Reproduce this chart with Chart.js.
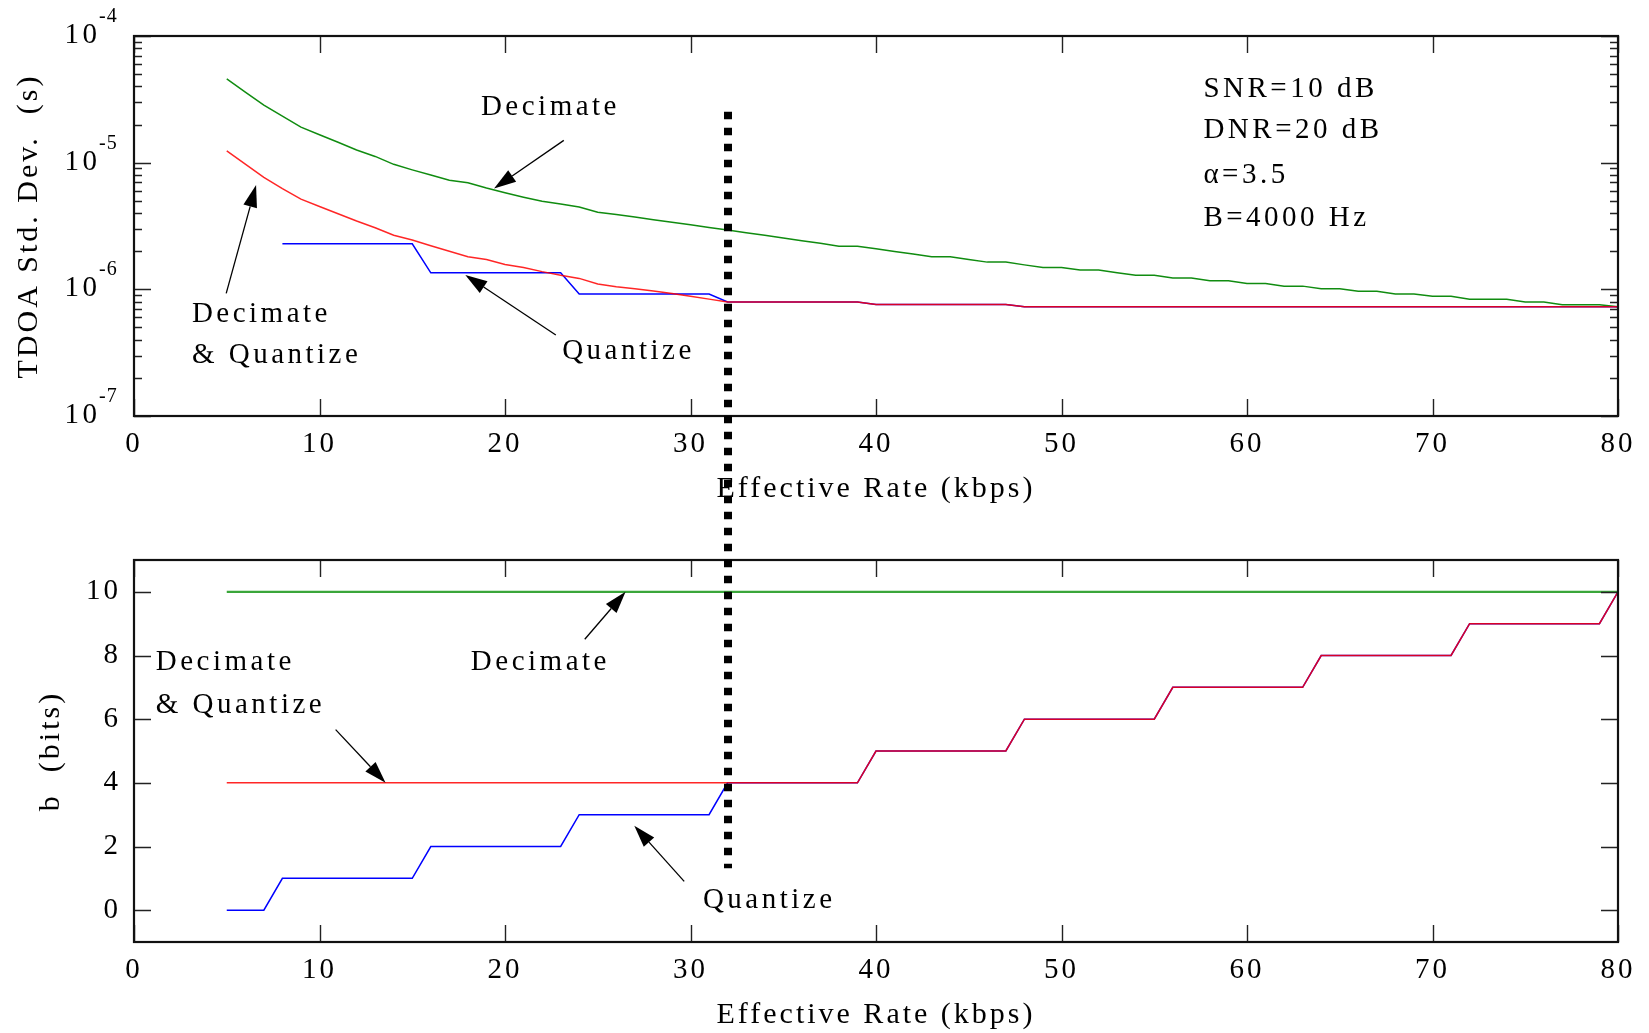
<!DOCTYPE html>
<html>
<head>
<meta charset="utf-8">
<title>TDOA accuracy vs effective rate</title>
<script src="https://cdn.jsdelivr.net/npm/chart.js@4.4.1/dist/chart.umd.min.js"></script>
<style>
  html, body { margin: 0; padding: 0; background: #fff; overflow: hidden; }
  #wrap { position: relative; width: 1649px; height: 1033px; }
  canvas { position: absolute; left: 0; }
  #tdoa { top: 0; }
  #bits { top: 507px; }
  #marker { top: 0; pointer-events: none; }
</style>
</head>
<body>
<div id="wrap">
  <canvas id="tdoa" width="1649" height="507"></canvas>
  <canvas id="bits" width="1649" height="526"></canvas>
  <canvas id="marker" width="1649" height="1033"></canvas>
</div>
<script>
// effective rate in kbps, one sample per integer rate
const rateKbps = [
  5, 6, 7, 8, 9, 10, 11, 12, 13, 14, 15, 16, 17, 18, 19, 20,
  21, 22, 23, 24, 25, 26, 27, 28, 29, 30, 31, 32, 33, 34, 35, 36,
  37, 38, 39, 40, 41, 42, 43, 44, 45, 46, 47, 48, 49, 50, 51, 52,
  53, 54, 55, 56, 57, 58, 59, 60, 61, 62, 63, 64, 65, 66, 67, 68,
  69, 70, 71, 72, 73, 74, 75, 76, 77, 78, 79, 80
];

// TDOA standard deviation (s)
const decimateStd = [
  4.58e-5, 3.61e-5, 2.85e-5, 2.33e-5, 1.91e-5, 1.66e-5, 1.45e-5, 1.26e-5,
  1.12e-5, 9.70e-6, 8.77e-6, 7.98e-6, 7.27e-6, 6.93e-6, 6.30e-6, 5.78e-6,
  5.33e-6, 4.95e-6, 4.72e-6, 4.46e-6, 4.06e-6, 3.89e-6, 3.72e-6, 3.55e-6,
  3.39e-6, 3.24e-6, 3.08e-6, 2.94e-6, 2.80e-6, 2.67e-6, 2.54e-6, 2.42e-6,
  2.31e-6, 2.19e-6, 2.19e-6, 2.09e-6, 1.99e-6, 1.90e-6, 1.81e-6, 1.81e-6,
  1.72e-6, 1.64e-6, 1.64e-6, 1.56e-6, 1.49e-6, 1.49e-6, 1.42e-6, 1.42e-6,
  1.35e-6, 1.29e-6, 1.29e-6, 1.23e-6, 1.23e-6, 1.17e-6, 1.17e-6, 1.11e-6,
  1.11e-6, 1.06e-6, 1.06e-6, 1.01e-6, 1.01e-6, 9.64e-7, 9.64e-7, 9.18e-7,
  9.18e-7, 8.81e-7, 8.81e-7, 8.34e-7, 8.34e-7, 8.34e-7, 7.94e-7, 7.94e-7,
  7.57e-7, 7.57e-7, 7.57e-7, 7.30e-7
];
const bothStd = [
  1.24e-5, 9.73e-6, 7.64e-6, 6.23e-6, 5.15e-6, 4.51e-6, 3.95e-6, 3.46e-6,
  3.06e-6, 2.67e-6, 2.45e-6, 2.21e-6, 2.00e-6, 1.81e-6, 1.72e-6, 1.57e-6,
  1.49e-6, 1.38e-6, 1.29e-6, 1.22e-6, 1.10e-6, 1.05e-6, 1.01e-6, 9.69e-7,
  9.29e-7, 8.81e-7, 8.37e-7, 7.94e-7, 7.94e-7, 7.94e-7, 7.94e-7, 7.94e-7,
  7.94e-7, 7.94e-7, 7.94e-7, 7.60e-7, 7.60e-7, 7.60e-7, 7.60e-7, 7.60e-7,
  7.60e-7, 7.60e-7, 7.60e-7, 7.30e-7, 7.30e-7, 7.30e-7, 7.30e-7, 7.30e-7,
  7.30e-7, 7.30e-7, 7.30e-7, 7.30e-7, 7.30e-7, 7.30e-7, 7.30e-7, 7.30e-7,
  7.30e-7, 7.30e-7, 7.30e-7, 7.30e-7, 7.30e-7, 7.30e-7, 7.30e-7, 7.30e-7,
  7.30e-7, 7.30e-7, 7.30e-7, 7.30e-7, 7.30e-7, 7.30e-7, 7.30e-7, 7.30e-7,
  7.30e-7, 7.30e-7, 7.30e-7, 7.30e-7
];
const quantizeStd = [
  null, null, null, 2.29e-6, 2.29e-6, 2.29e-6, 2.29e-6, 2.29e-6,
  2.29e-6, 2.29e-6, 2.29e-6, 1.35e-6, 1.35e-6, 1.35e-6, 1.35e-6, 1.35e-6,
  1.35e-6, 1.35e-6, 1.35e-6, 9.18e-7, 9.18e-7, 9.18e-7, 9.18e-7, 9.18e-7,
  9.18e-7, 9.18e-7, 9.18e-7, 7.94e-7, 7.94e-7, 7.94e-7, 7.94e-7, 7.94e-7,
  7.94e-7, 7.94e-7, 7.94e-7, 7.60e-7, 7.60e-7, 7.60e-7, 7.60e-7, 7.60e-7,
  7.60e-7, 7.60e-7, 7.60e-7, 7.30e-7, 7.30e-7, 7.30e-7, 7.30e-7, 7.30e-7,
  7.30e-7, 7.30e-7, 7.30e-7, 7.30e-7, 7.30e-7, 7.30e-7, 7.30e-7, 7.30e-7,
  7.30e-7, 7.30e-7, 7.30e-7, 7.30e-7, 7.30e-7, 7.30e-7, 7.30e-7, 7.30e-7,
  7.30e-7, 7.30e-7, 7.30e-7, 7.30e-7, 7.30e-7, 7.30e-7, 7.30e-7, 7.30e-7,
  7.30e-7, 7.30e-7, 7.30e-7, 7.30e-7
];

// bits per sample
const decimateBits = [
  10, 10, 10, 10, 10, 10, 10, 10, 10, 10, 10, 10, 10, 10, 10, 10,
  10, 10, 10, 10, 10, 10, 10, 10, 10, 10, 10, 10, 10, 10, 10, 10,
  10, 10, 10, 10, 10, 10, 10, 10, 10, 10, 10, 10, 10, 10, 10, 10,
  10, 10, 10, 10, 10, 10, 10, 10, 10, 10, 10, 10, 10, 10, 10, 10,
  10, 10, 10, 10, 10, 10, 10, 10, 10, 10, 10, 10
];
const bothBits = [
  4, 4, 4, 4, 4, 4, 4, 4, 4, 4, 4, 4, 4, 4, 4, 4,
  4, 4, 4, 4, 4, 4, 4, 4, 4, 4, 4, 4, 4, 4, 4, 4,
  4, 4, 4, 5, 5, 5, 5, 5, 5, 5, 5, 6, 6, 6, 6, 6,
  6, 6, 6, 7, 7, 7, 7, 7, 7, 7, 7, 8, 8, 8, 8, 8,
  8, 8, 8, 9, 9, 9, 9, 9, 9, 9, 9, 10
];
const quantizeBits = [
  0, 0, 0, 1, 1, 1, 1, 1, 1, 1, 1, 2, 2, 2, 2, 2,
  2, 2, 2, 3, 3, 3, 3, 3, 3, 3, 3, 4, 4, 4, 4, 4,
  4, 4, 4, 5, 5, 5, 5, 5, 5, 5, 5, 6, 6, 6, 6, 6,
  6, 6, 6, 7, 7, 7, 7, 7, 7, 7, 7, 8, 8, 8, 8, 8,
  8, 8, 8, 9, 9, 9, 9, 9, 9, 9, 9, 10
];

const rateTicks = [0, 10, 20, 30, 40, 50, 60, 70, 80];
const decadeTicks = [1e-7, 1e-6, 1e-5, 1e-4];
const bitTicks = [0, 2, 4, 6, 8, 10];

// operating point marked by the dotted line
const markerRate = 32;
const markerTopStd = 2.52e-5;
const markerBottomBits = 1.32;

const SERIF = "'Liberation Serif', 'Times New Roman', serif";
const GAP = '3px';
const NOTE_GAP = '3.5px';
const tickFont = { family: SERIF, size: 29 };
const titleFont = { family: SERIF, size: 30 };

const pairs = (xs, ys) => xs.map((x, i) => ({ x, y: ys[i] }));

function drawArrow(ctx, x0, y0, x1, y1) {
  const ang = Math.atan2(y1 - y0, x1 - x0);
  const len = 22, half = 7;
  const bx = x1 - len * Math.cos(ang), by = y1 - len * Math.sin(ang);
  ctx.beginPath();
  ctx.moveTo(x0, y0);
  ctx.lineTo(bx, by);
  ctx.stroke();
  ctx.beginPath();
  ctx.moveTo(x1, y1);
  ctx.lineTo(bx + half * Math.sin(ang), by - half * Math.cos(ang));
  ctx.lineTo(bx - half * Math.sin(ang), by + half * Math.cos(ang));
  ctx.closePath();
  ctx.fill();
}

// frame, inward ticks, labels and arrows
const decor = {
  id: 'decor',
  beforeUpdate(chart) { chart.ctx.letterSpacing = GAP; },
  beforeDraw(chart) { chart.ctx.letterSpacing = GAP; },
  afterDraw(chart, args, opts) {
    const { ctx, chartArea: a } = chart;
    const xs = chart.scales.x, ys = chart.scales.y;
    ctx.save();

    ctx.strokeStyle = '#222';
    ctx.lineWidth = 1.4;
    ctx.beginPath();
    xs.ticks.forEach(t => {
      const p = Math.round(xs.getPixelForValue(t.value)) + 0.5;
      ctx.moveTo(p, a.top); ctx.lineTo(p, a.top + 17);
      ctx.moveTo(p, a.bottom); ctx.lineTo(p, a.bottom - 17);
    });
    ys.ticks.forEach(t => {
      const p = Math.round(ys.getPixelForValue(t.value)) + 0.5;
      const len = opts.majors.includes(t.value) ? 17 : 8;
      ctx.moveTo(a.left, p); ctx.lineTo(a.left + len, p);
      ctx.moveTo(a.right, p); ctx.lineTo(a.right - len, p);
    });
    ctx.stroke();

    ctx.strokeStyle = '#111';
    ctx.lineWidth = 2.2;
    ctx.strokeRect(a.left, a.top, a.width, a.height);

    ctx.fillStyle = '#000';
    ctx.textBaseline = 'alphabetic';

    if (opts.powers) {
      opts.powers.forEach(v => {
        const p = ys.getPixelForValue(v);
        ctx.letterSpacing = NOTE_GAP;
        ctx.font = `29px ${SERIF}`;
        ctx.textAlign = 'right';
        ctx.fillText('10', a.left - 33.5, p + 7);
        ctx.letterSpacing = '1px';
        ctx.font = `20px ${SERIF}`;
        ctx.textAlign = 'left';
        ctx.fillText(String(Math.round(Math.log10(v))), a.left - 35, p - 14);
      });
    }

    ctx.letterSpacing = NOTE_GAP;
    ctx.font = `29px ${SERIF}`;
    ctx.textAlign = 'left';
    opts.notes.forEach(n => {
      ctx.fillText(n.text, xs.getPixelForValue(n.x), ys.getPixelForValue(n.y));
    });

    ctx.strokeStyle = '#000';
    ctx.lineWidth = 1.3;
    opts.arrows.forEach(r => {
      drawArrow(ctx,
        xs.getPixelForValue(r.from[0]), ys.getPixelForValue(r.from[1]),
        xs.getPixelForValue(r.to[0]), ys.getPixelForValue(r.to[1]));
    });
    ctx.restore();
  }
};

function rateAxis() {
  return {
    type: 'linear', min: 0, max: 80,
    afterBuildTicks: s => { s.ticks = rateTicks.map(v => ({ value: v })); },
    ticks: { font: tickFont, color: '#000', padding: 11, maxRotation: 0 },
    grid: { display: false, drawTicks: false },
    border: { display: false },
    title: { display: true, text: 'Effective Rate (kbps)', font: titleFont, color: '#000', padding: { top: 0, bottom: 0 } },
    afterFit: s => { s.height = 91; }
  };
}

const common = {
  responsive: false,
  animation: false,
  devicePixelRatio: 1,
  elements: { point: { radius: 0 }, line: { tension: 0, fill: false } },
};

const tdoaChart = new Chart(document.getElementById('tdoa'), {
  type: 'line',
  data: {
    datasets: [
      { label: 'Decimate & Quantize', data: pairs(rateKbps, bothStd), borderColor: 'rgba(255,0,0,0.85)', borderWidth: 1.5 },
      { label: 'Quantize', data: pairs(rateKbps, quantizeStd), borderColor: '#0000ff', borderWidth: 1.5 },
      { label: 'Decimate', data: pairs(rateKbps, decimateStd), borderColor: '#108c10', borderWidth: 1.5 }
    ]
  },
  options: {
    ...common,
    layout: { padding: { top: 36, right: 31, left: 0, bottom: 0 } },
    plugins: {
      legend: { display: false },
      tooltip: { enabled: false },
      decor: {
        majors: decadeTicks,
        powers: decadeTicks,
        notes: [
          { text: 'Decimate', x: 18.7, y: 2.37e-5 },
          { text: 'Decimate', x: 3.12, y: 5.52e-7 },
          { text: '& Quantize', x: 3.12, y: 2.62e-7 },
          { text: 'Quantize', x: 23.08, y: 2.81e-7 },
          { text: 'SNR=10 dB', x: 57.65, y: 3.29e-5 },
          { text: 'DNR=20 dB', x: 57.65, y: 1.56e-5 },
          { text: 'α=3.5', x: 57.65, y: 6.88e-6 },
          { text: 'B=4000 Hz', x: 57.65, y: 3.16e-6 }
        ],
        arrows: [
          { from: [23.17, 1.50e-5], to: [19.41, 6.26e-6] },
          { from: [4.97, 9.29e-7], to: [6.58, 6.65e-6] },
          { from: [22.74, 4.36e-7], to: [17.86, 1.30e-6] }
        ]
      }
    },
    scales: {
      x: rateAxis(),
      y: {
        type: 'logarithmic', min: 1e-7, max: 1e-4,
        afterBuildTicks: s => {
          const marks = [];
          decadeTicks.slice(0, -1).forEach(d => {
            for (let m = 1; m <= 9; m++) marks.push({ value: d * m });
          });
          marks.push({ value: decadeTicks[decadeTicks.length - 1] });
          s.ticks = marks;
        },
        ticks: { display: false },
        grid: { display: false, drawTicks: false },
        border: { display: false },
        title: { display: true, text: 'TDOA Std. Dev.  (s)', font: titleFont, color: '#000', padding: { top: 11, bottom: 0 } },
        afterFit: s => { s.width = 134; }
      }
    }
  },
  plugins: [decor]
});

const bitsChart = new Chart(document.getElementById('bits'), {
  type: 'line',
  data: {
    datasets: [
      { label: 'Decimate & Quantize', data: pairs(rateKbps, bothBits), borderColor: 'rgba(255,0,0,0.85)', borderWidth: 1.5 },
      { label: 'Quantize', data: pairs(rateKbps, quantizeBits), borderColor: '#0000ff', borderWidth: 1.5 },
      { label: 'Decimate', data: pairs(rateKbps, decimateBits), borderColor: '#3aa63a', borderWidth: 2.2 }
    ]
  },
  options: {
    ...common,
    layout: { padding: { top: 53, right: 31, left: 0, bottom: 0 } },
    plugins: {
      legend: { display: false },
      tooltip: { enabled: false },
      decor: {
        majors: bitTicks,
        notes: [
          { text: 'Decimate', x: 1.17, y: 7.55 },
          { text: '& Quantize', x: 1.17, y: 6.2 },
          { text: 'Decimate', x: 18.16, y: 7.55 },
          { text: 'Quantize', x: 30.67, y: 0.07 }
        ],
        arrows: [
          { from: [24.3, 8.51], to: [26.5, 10] },
          { from: [10.87, 5.67], to: [13.56, 4] },
          { from: [29.66, 0.905], to: [26.97, 2.65] }
        ]
      }
    },
    scales: {
      x: rateAxis(),
      y: {
        type: 'linear', min: -1, max: 11,
        afterBuildTicks: s => { s.ticks = bitTicks.map(v => ({ value: v })); },
        ticks: { font: tickFont, color: '#000', padding: 13 },
        grid: { display: false, drawTicks: false },
        border: { display: false },
        title: { display: true, text: 'b  (bits)', font: titleFont, color: '#000', padding: { top: 33, bottom: 0 } },
        afterFit: s => { s.width = 134; }
      }
    }
  },
  plugins: [decor]
});

// dotted line at the operating point, running across both panels
function drawMarker() {
  const ctx = document.getElementById('marker').getContext('2d');
  const px = Math.round(tdoaChart.scales.x.getPixelForValue(markerRate));
  const y0 = tdoaChart.canvas.offsetTop + tdoaChart.scales.y.getPixelForValue(markerTopStd);
  const y1 = bitsChart.canvas.offsetTop + bitsChart.scales.y.getPixelForValue(markerBottomBits);
  ctx.clearRect(0, 0, ctx.canvas.width, ctx.canvas.height);
  ctx.strokeStyle = '#000';
  ctx.lineWidth = 8;
  ctx.setLineDash([7.5, 8.5]);
  ctx.beginPath();
  ctx.moveTo(px, y0);
  ctx.lineTo(px, y1);
  ctx.stroke();
}
drawMarker();
</script>
</body>
</html>
